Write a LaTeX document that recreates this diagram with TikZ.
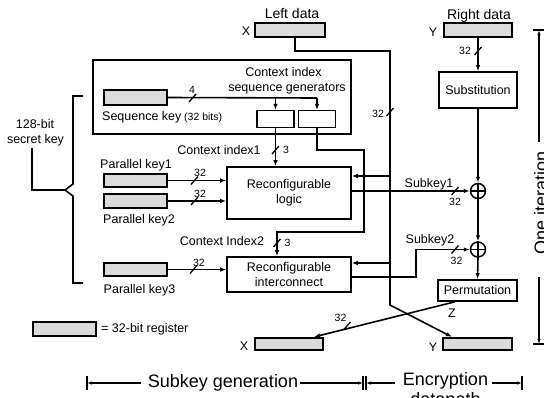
\documentclass[tikz,border=0pt]{standalone}
\usepackage{fontspec}
\setmainfont{Liberation Sans}
\usetikzlibrary{arrows.meta}
\newcommand\fM{\fontsize{12.5}{15}\selectfont}
\newcommand\fS{\fontsize{10.5}{12}\selectfont}
\newcommand\fB{\fontsize{18}{21}\selectfont}
\newcommand\fD{\fontsize{14}{16}\selectfont}
\begin{document}
\begin{tikzpicture}[x=1pt,y=-1pt,
  reg/.style={draw, line width=2.2pt, fill=gray!28, inner sep=0pt, minimum width=#1, minimum height=14pt},
  blk/.style={draw, line width=1.6pt, inner sep=0pt, font=\fM, align=center},
  sbox/.style={draw, line width=1.2pt, inner sep=0pt, minimum width=37pt, minimum height=17pt},
  wire/.style={line width=1.6pt},
  arr/.style={wire, -{Latex[length=6pt,width=4.5pt]}},
  dimarr/.style={line width=1.3pt, -{Latex[length=5pt,width=3.5pt]}},
  bar/.style={line width=1.3pt},
  txt/.style={inner sep=0pt, font=\fM, anchor=base},
  sm/.style={inner sep=0pt, font=\fS, anchor=base},
  xorc/.style={draw, circle, line width=1.5pt, minimum size=15pt, inner sep=0pt},
  bus/.pic={\draw[line width=1.3pt] (-3.5,4) -- (3.5,-4);}
]
\useasboundingbox (0,0) rectangle (544,397);

% registers
\node[reg=70pt] (LD) at (290,30) {};
\node[reg=68pt] (RD) at (478,30) {};
\node[reg=63pt, minimum height=15pt] (SK) at (135.5,97.5) {};
\node[reg=63pt, minimum height=13pt] (PK1) at (135.5,180.5) {};
\node[reg=63pt] (PK2) at (135.5,201) {};
\node[reg=63pt, minimum height=13pt] (PK3) at (135.5,269.5) {};
\node[reg=63pt] (LG) at (64.5,329) {};
\node[reg=68pt, minimum height=12pt] (XB) at (289,344) {};
\node[reg=69pt, minimum height=12pt] (YB) at (477.5,344) {};

% boxes
\node[blk, minimum width=258pt, minimum height=74pt] (GEN) at (222,97) {};
\node[sbox] (B1) at (275.5,119) {};
\node[sbox] (B2) at (317,119) {};
\node[blk, minimum width=124pt, minimum height=52pt] (RL) at (289,193) {Reconfigurable\\logic};
\node[blk, minimum width=124pt, minimum height=35pt] (RI) at (289,274.5) {Reconfigurable\\interconnect};
\node[blk, minimum width=78pt, minimum height=36pt] (SUB) at (478,90) {Substitution};
\node[blk, minimum width=79pt, minimum height=21pt] (PERM) at (477.5,290.5) {Permutation};
\node[xorc] (X1) at (478,191) {};
\node[xorc] (X2) at (478,249.5) {};
\draw[line width=1.5pt] (X1.north)--(X1.south) (X1.west)--(X1.east)
                        (X2.north)--(X2.south) (X2.west)--(X2.east);

% texts
\node[txt, font=\fD] (tLD) at (292,18) {Left data};
\node[txt, font=\fD] (tRD) at (479,19) {Right data};
\node[txt] (tX1) at (246,35) {X};
\node[txt] (tY1) at (433,36) {Y};
\node[txt] (tX2) at (244,350) {X};
\node[txt] (tY2) at (433,351) {Y};
\node[txt] (tZ) at (452,317) {Z};
\node[txt] (tG1) at (283.5,76) {Context index};
\node[txt] (tG2) at (287,91) {sequence generators};
\node[txt, anchor=base west] (tSK) at (102,120) {Sequence key};
\node[sm, anchor=base west] (tSKb) at (184,120) {(32 bits)};
\node[txt] (tK1) at (35,128) {128-bit};
\node[txt] (tK2) at (35.5,143) {secret key};
\node[txt] (tP1) at (136,168) {Parallel key1};
\node[txt] (tP2) at (139,223) {Parallel key2};
\node[txt] (tP3) at (139.5,293) {Parallel key3};
\node[txt] (tC1) at (219,154) {Context index1};
\node[txt] (tC2) at (222,245) {Context Index2};
\node[txt, anchor=base west] (tLG) at (101,332) {= 32-bit register};
\node[txt] (tS1) at (429,187) {Subkey1};
\node[txt] (tS2) at (430,243) {Subkey2};
\node[txt, font=\fB] (tSG) at (223,387) {Subkey generation};
\node[txt, font=\fB] (tEN) at (445.5,385) {Encryption};
\node[txt, font=\fB] (tDP) at (445.5,405) {datapath};
\node[txt, font=\fB, rotate=90] (tOI) at (547,202.5) {One iteration};

% small labels
\node[sm] (n4) at (192,93) {4};
\node[sm] (n32a) at (200,176) {32};
\node[sm] (n32b) at (200,197) {32};
\node[sm] (n32c) at (199,266) {32};
\node[sm] (n3a) at (286,153) {3};
\node[sm] (n3b) at (287.5,246) {3};
\node[sm] (n32d) at (378,117) {32};
\node[sm] (n32e) at (465,54) {32};
\node[sm] (n32f) at (455,205) {32};
\node[sm] (n32g) at (456.5,264) {32};
\node[sm] (n32h) at (340.5,321) {32};

% left data wire
\coordinate (L1) at (295,51);
\coordinate (L2) at (390,51);
\coordinate (L3) at (390,305);
\draw[arr] (LD.south -| L1) -- (L1) -- (L2) -- (L3) -- ([xshift=10pt]YB.north west);
\pic at (390,112) {bus};
\coordinate (L4) at (390,176);
\coordinate (L5) at (390,263);
\draw[arr] (L4) -- (L4 -| RL.east);
\draw[arr] (L5) -- (L5 -| RI.east);

% sequence key
\coordinate (S1) at (275.5,98);
\coordinate (S2) at (317,98);
\draw[wire] (SK.east) -- (S2);
\draw[arr] (S1) -- (B1.north);
\draw[arr] (S2) -- (B2.north);
\pic at (192.5,98) {bus};

% context indices
\draw[arr] (B1.south) -- (B1.south |- RL.north);
\pic at (275.5,150) {bus};
\coordinate (C1) at (317,150);
\coordinate (C2) at (364,150);
\coordinate (C3) at (364,232);
\coordinate (C4) at (277,232);
\draw[arr] (B2.south) -- (C1) -- (C2) -- (C3) -- (C4) -- (C4 |- RI.north);
\pic at (277,243) {bus};

% parallel keys
\draw[arr] (PK1.east) -- (PK1.east -| RL.west);
\pic at (194.5,180.5) {bus};
\draw[arr] (PK2.east) -- (PK2.east -| RL.west);
\pic at (194.5,201) {bus};
\draw[arr] (PK3.east) -- (PK3.east -| RI.west);
\pic at (193.5,269.5) {bus};

% right datapath
\draw[arr] (RD.south) -- (SUB.north);
\pic at (478,51) {bus};
\draw[arr] (SUB.south) -- (X1.north);
\draw[arr] (X1.south) -- (X2.north);
\draw[arr] (X2.south) -- (PERM.north);
\draw[arr] (RL.east |- X1) -- (X1.west);
\pic at (455,191) {bus};
\coordinate (R1) at (416,277);
\coordinate (R2) at (416,249.5);
\draw[arr] (R1 -| RI.east) -- (R1) -- (R2) -- (X2.west);
\pic at (455,249.5) {bus};
\draw[arr] ([xshift=-22.5pt]PERM.south) -- ([xshift=-10pt]XB.north east);
\pic at (347,326) {bus};

% brace for 128-bit key
\coordinate (Bt) at (83,96);
\coordinate (Bb) at (83,283);
\coordinate (Bm) at (65,190);
\coordinate (Bk) at (32,148);
\draw[wire] (Bt) -- (73,96) -- (73,184) -- (Bm) -- (73,196) -- (73,283) -- (Bb);
\draw[wire] (Bm) -- (32,190) -- (Bk);

% one iteration
\coordinate (O1) at (539,142);
\coordinate (O2) at (539,30);
\coordinate (O3) at (539,277);
\coordinate (O4) at (539,344);
\draw[dimarr] (O1) -- (O2);
\draw[dimarr] (O3) -- (O4);
\draw[bar] (533,30) -- (545,30);
\draw[bar] (533,344) -- (545,344);

% bottom extents
\coordinate (D1) at (87,383);
\coordinate (D2) at (363,383);
\coordinate (D3) at (366,383);
\coordinate (D4) at (522,383);
\draw[bar] (87,376) -- (87,390);
\draw[bar] (363,376) -- (363,390);
\draw[bar] (366,376) -- (366,390);
\draw[bar] (522,376) -- (522,390);
\draw[dimarr] (141,383) -- (D1);
\draw[dimarr] (300,383) -- (D2);
\draw[dimarr] (395,383) -- (D3);
\draw[dimarr] (492,383) -- (D4);
\end{tikzpicture}
\end{document}
